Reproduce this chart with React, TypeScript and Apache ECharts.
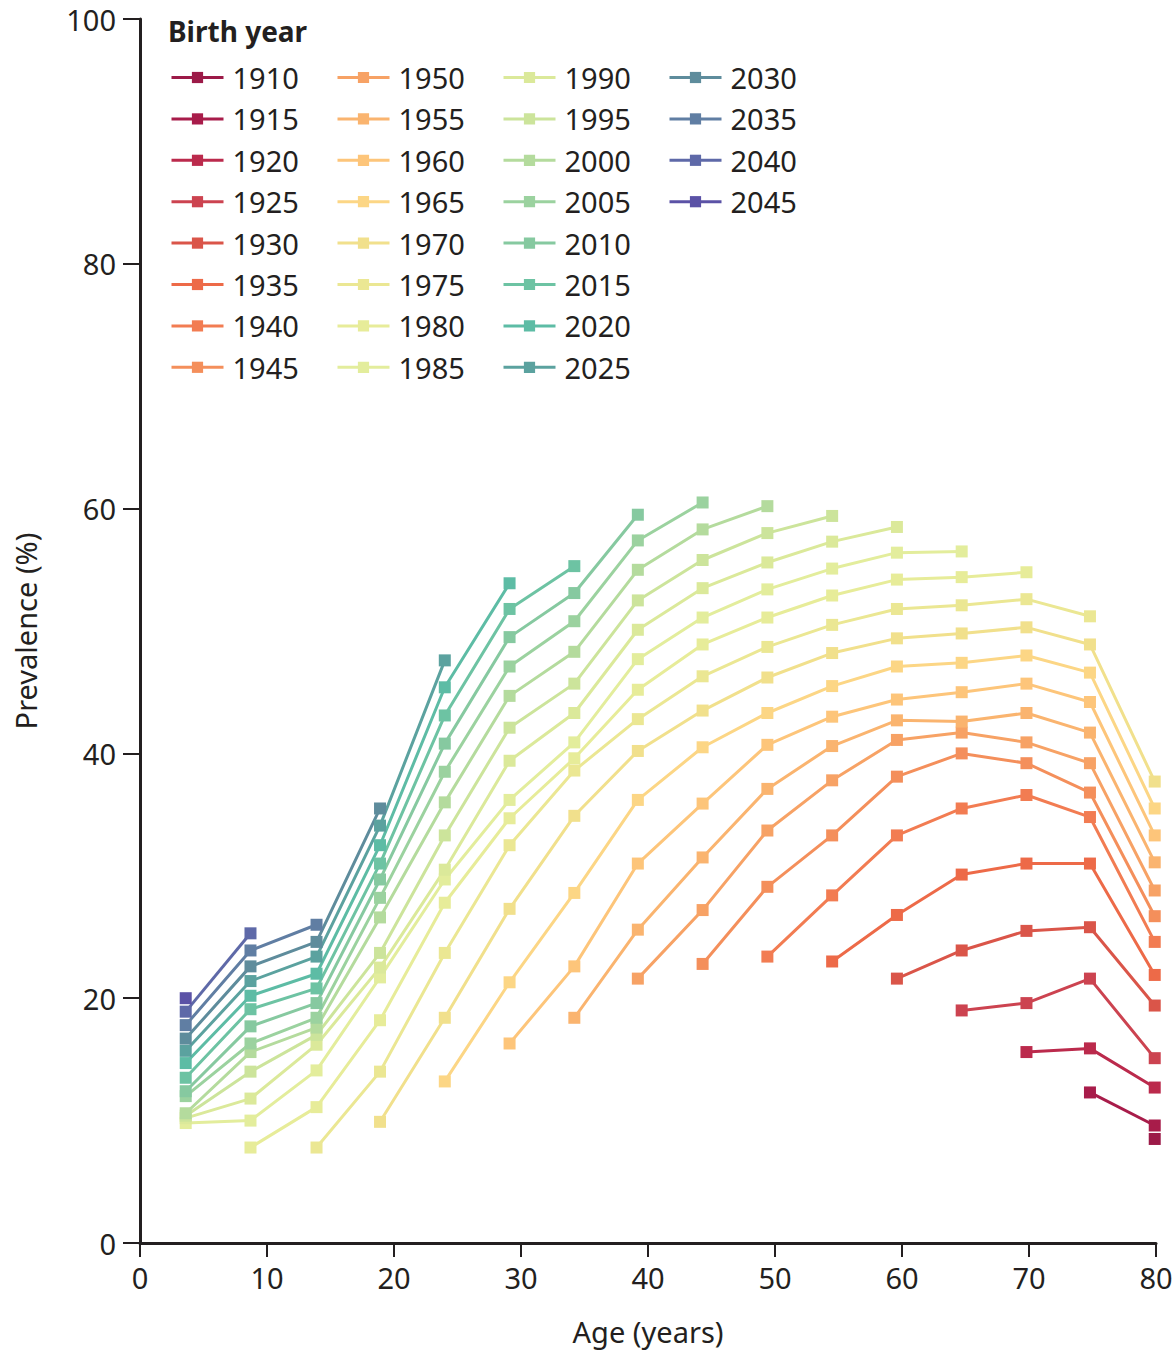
import React, { useEffect, useRef } from "react";
import * as echarts from "echarts";

// Age (x position) of each age group
const ages = [3.6, 8.7, 13.9, 18.9, 24.0, 29.1, 34.2, 39.2, 44.3, 49.4, 54.5, 59.6, 64.7, 69.8, 74.8, 79.9];

const birthYears = [
  1910, 1915, 1920, 1925, 1930, 1935, 1940, 1945,
  1950, 1955, 1960, 1965, 1970, 1975, 1980, 1985,
  1990, 1995, 2000, 2005, 2010, 2015, 2020, 2025,
  2030, 2035, 2040, 2045,
];

const cohortColors = [
  "#9c1a48", "#a81c4a", "#bb2a4c", "#cc4350", "#da5549", "#ed6a48", "#f27c52", "#f48f5b",
  "#f7a265", "#fab46f", "#fdc57a", "#fcd685", "#f1e08c", "#ebe793", "#e7ec99", "#e3ed9c",
  "#dbe99a", "#cce49b", "#b4db9d", "#9bd29f", "#86c9a0", "#6dc3a3", "#5dbca5", "#5ba29f",
  "#5e8c9c", "#607ea3", "#5e69a8", "#5b52a6",
];

// Prevalence (%) at each age group, 13 cohorts each, oldest cohort first
const atAge04 = [9.8, 10.2, 10.4, 10.6, 12.0, 12.4, 13.5, 14.7, 15.7, 16.7, 17.8, 18.9, 20.0]; // 1985–2045
const atAge09 = [7.8, 10.0, 11.8, 14.0, 15.6, 16.3, 17.7, 19.1, 20.2, 21.4, 22.6, 23.9, 25.3]; // 1980–2040
const atAge14 = [7.8, 11.1, 14.1, 16.2, 17.0, 17.6, 18.4, 19.6, 20.8, 22.0, 23.4, 24.6, 26.0]; // 1975–2035
const atAge19 = [9.9, 14.0, 18.2, 21.7, 22.5, 23.7, 26.6, 28.2, 29.7, 31.0, 32.5, 34.1, 35.5]; // 1970–2030
const atAge24 = [13.2, 18.4, 23.7, 27.8, 29.7, 30.5, 33.3, 36.0, 38.5, 40.8, 43.1, 45.4, 47.6]; // 1965–2025
const atAge29 = [16.3, 21.3, 27.3, 32.5, 34.7, 36.2, 39.4, 42.1, 44.7, 47.1, 49.5, 51.8, 53.9]; // 1960–2020
const atAge34 = [18.4, 22.6, 28.6, 34.9, 38.6, 39.6, 40.9, 43.3, 45.7, 48.3, 50.8, 53.1, 55.3]; // 1955–2015
const atAge39 = [21.6, 25.6, 31.0, 36.2, 40.2, 42.8, 45.2, 47.7, 50.1, 52.5, 55.0, 57.4, 59.5]; // 1950–2010
const atAge44 = [22.8, 27.2, 31.5, 35.9, 40.5, 43.5, 46.3, 48.9, 51.1, 53.5, 55.8, 58.3, 60.5]; // 1945–2005
const atAge49 = [23.4, 29.1, 33.7, 37.1, 40.7, 43.3, 46.2, 48.7, 51.1, 53.4, 55.6, 58.0, 60.2]; // 1940–2000
const atAge54 = [23.0, 28.4, 33.3, 37.8, 40.6, 43.0, 45.5, 48.2, 50.5, 52.9, 55.1, 57.3, 59.4]; // 1935–1995
const atAge59 = [21.6, 26.8, 33.3, 38.1, 41.1, 42.7, 44.4, 47.1, 49.4, 51.8, 54.2, 56.4, 58.5]; // 1930–1990
const atAge64 = [19.0, 23.9, 30.1, 35.5, 40.0, 41.7, 42.6, 45.0, 47.4, 49.8, 52.1, 54.4, 56.5]; // 1925–1985
const atAge69 = [15.6, 19.6, 25.5, 31.0, 36.6, 39.2, 40.9, 43.3, 45.7, 48.0, 50.3, 52.6, 54.8]; // 1920–1980
const atAge74 = [12.3, 15.9, 21.6, 25.8, 31.0, 34.8, 36.8, 39.2, 41.7, 44.2, 46.6, 48.9, 51.2]; // 1915–1975
const atAge79 = [8.5, 9.6, 12.7, 15.1, 19.4, 21.9, 24.6, 26.7, 28.8, 31.1, 33.3, 35.5, 37.7]; // 1910–1970

const yTicks = [0, 20, 40, 60, 80, 100];
const xTicks = [0, 10, 20, 30, 40, 50, 60, 70, 80];

const FONT = "'Noto Sans', 'Open Sans', sans-serif";
const INK = "#231f20";

export default function App() {
  const ref = useRef<HTMLDivElement>(null);

  useEffect(() => {
    if (!ref.current) return;
    const chart = echarts.init(ref.current, undefined, { renderer: "svg" });

    const byAge = [
      atAge04, atAge09, atAge14, atAge19, atAge24, atAge29, atAge34, atAge39,
      atAge44, atAge49, atAge54, atAge59, atAge64, atAge69, atAge74, atAge79,
    ];
    const nAges = ages.length;
    const nPerAge = byAge[0].length;

    const series = birthYears.map((year, c) => {
      const data: number[][] = [];
      for (let a = 0; a < nAges; a++) {
        const idx = c - (nAges - 1 - a);
        if (idx >= 0 && idx < nPerAge) data.push([ages[a], byAge[a][idx]]);
      }
      return {
        name: String(year),
        type: "line",
        data,
        symbol: "rect",
        symbolSize: 12,
        showSymbol: true,
        color: cohortColors[c],
        lineStyle: { width: 3, color: cohortColors[c] },
        itemStyle: { color: cohortColors[c] },
        emphasis: { disabled: true },
        silent: true,
        z: 2,
      };
    });

    const colLeft = [170, 336, 502, 668];
    const legends = colLeft.map((left, col) => ({
      orient: "vertical",
      left,
      top: 63,
      padding: 0,
      itemGap: 12.4,
      itemWidth: 52,
      itemHeight: 14,
      selectedMode: false,
      lineStyle: { width: 3 },
      data: birthYears.slice(col * 8, col * 8 + 8).map(String),
      textStyle: {
        fontFamily: FONT,
        fontSize: 29,
        lineHeight: 28,
        color: INK,
        padding: [0, 0, 0, 4],
      },
    }));

    chart.setOption({
      animation: false,
      backgroundColor: "#ffffff",
      title: {
        text: "Birth year",
        left: 168,
        top: 17,
        padding: 0,
        textStyle: { fontFamily: FONT, fontSize: 28, fontWeight: "bold", color: INK },
      },
      legend: legends,
      grid: { left: 140, right: 20, top: 19, bottom: 108, containLabel: false },
      xAxis: {
        type: "value",
        min: xTicks[0],
        max: xTicks[xTicks.length - 1],
        interval: 10,
        name: "Age (years)",
        nameLocation: "middle",
        nameGap: 74,
        nameTextStyle: { fontFamily: FONT, fontSize: 29, color: INK },
        axisLine: { show: true, lineStyle: { color: INK, width: 3 } },
        axisTick: { show: true, length: 14, lineStyle: { color: INK, width: 2 } },
        axisLabel: { fontFamily: FONT, fontSize: 29, color: INK, margin: 20 },
        splitLine: { show: false },
      },
      yAxis: {
        type: "value",
        min: yTicks[0],
        max: yTicks[yTicks.length - 1],
        interval: 20,
        name: "Prevalence (%)",
        nameLocation: "middle",
        nameGap: 100,
        nameTextStyle: { fontFamily: FONT, fontSize: 29, color: INK },
        axisLine: { show: true, lineStyle: { color: INK, width: 3 } },
        axisTick: { show: true, length: 17, lineStyle: { color: INK, width: 2 } },
        axisLabel: { fontFamily: FONT, fontSize: 29, color: INK, margin: 24 },
        splitLine: { show: false },
      },
      series,
    });

    return () => chart.dispose();
  }, []);

  return (
    <div
      ref={ref}
      style={{ position: "absolute", left: 0, top: 0, width: 1176, height: 1351, background: "#fff" }}
    />
  );
}
